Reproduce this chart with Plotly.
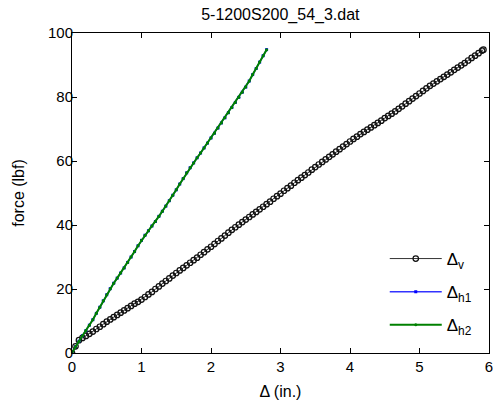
import plotly.graph_objects as go

# Black series: Delta_v (in.) vs force (lbf)
dv_x = [0, 0.05, 0.10, 0.15, 0.20, 0.25, 0.30, 0.35, 0.40, 0.45, 0.50, 0.55, 0.60, 0.65, 0.70, 0.75,
        0.80, 0.85, 0.90, 0.95, 1.00, 1.05, 1.10, 1.15, 1.20, 1.25, 1.30, 1.35, 1.40, 1.45, 1.50,
        1.55, 1.60, 1.65, 1.70, 1.75, 1.80, 1.85, 1.90, 1.95, 2.00, 2.05, 2.10, 2.15, 2.20, 2.25,
        2.30, 2.35, 2.40, 2.45, 2.50, 2.55, 2.60, 2.65, 2.70, 2.75, 2.80, 2.85, 2.90, 2.95, 3.00,
        3.05, 3.10, 3.15, 3.20, 3.25, 3.30, 3.35, 3.40, 3.45, 3.50, 3.55, 3.60, 3.65, 3.70, 3.75,
        3.80, 3.85, 3.90, 3.95, 4.00, 4.05, 4.10, 4.15, 4.20, 4.25, 4.30, 4.35, 4.40, 4.45, 4.50,
        4.55, 4.60, 4.65, 4.70, 4.75, 4.80, 4.85, 4.90, 4.95, 5.00, 5.05, 5.10, 5.15, 5.20, 5.25,
        5.30, 5.35, 5.40, 5.45, 5.50, 5.55, 5.60, 5.65, 5.70, 5.75, 5.80, 5.85, 5.90, 5.92]
dv_f = [0, 2.1, 4.0, 4.7, 5.35, 6.0, 6.7, 7.5, 8.2, 9.0, 9.8, 10.5, 11.2, 11.9, 12.6, 13.3,
        14.0, 14.7, 15.4, 16.0, 16.7, 17.5, 18.3, 19.1, 20.0, 20.8, 21.7, 22.5, 23.3, 24.2, 25.0,
        25.8, 26.6, 27.4, 28.2, 29.0, 29.8, 30.7, 31.5, 32.4, 33.2, 34.1, 35.0, 35.8, 36.7, 37.6,
        38.5, 39.3, 40.1, 40.9, 41.7, 42.5, 43.3, 44.1, 44.9, 45.7, 46.5, 47.3, 48.2, 49.0, 49.8,
        50.7, 51.5, 52.3, 53.2, 54.0, 54.8, 55.6, 56.4, 57.3, 58.1, 58.9, 59.7, 60.5, 61.3, 62.1,
        62.9, 63.7, 64.5, 65.3, 66.1, 66.9, 67.6, 68.4, 69.1, 69.8, 70.5, 71.2, 71.9, 72.6, 73.4,
        74.1, 74.8, 75.5, 76.3, 77.1, 77.9, 78.7, 79.5, 80.3, 81.1, 81.9, 82.7, 83.5, 84.2, 84.9,
        85.6, 86.3, 87.0, 87.7, 88.5, 89.2, 89.9, 90.6, 91.4, 92.2, 92.9, 93.7, 94.5, 94.8]

# Green / blue series: Delta_h (in.) vs force (lbf)
dh_x = [0, 0.05, 0.10, 0.15, 0.20, 0.25, 0.30, 0.35, 0.40, 0.45, 0.50, 0.55, 0.60, 0.65, 0.70,
        0.75, 0.80, 0.85, 0.90, 0.95, 1.00, 1.05, 1.10, 1.15, 1.20, 1.25, 1.30, 1.35, 1.40, 1.45,
        1.50, 1.55, 1.60, 1.65, 1.70, 1.75, 1.80, 1.85, 1.90, 1.95, 2.00, 2.05, 2.10, 2.15, 2.20,
        2.25, 2.30, 2.35, 2.40, 2.45, 2.50, 2.55, 2.60, 2.65, 2.70, 2.75, 2.80]
dh_f = [0, 2.0, 3.7, 5.4, 7.0, 8.7, 10.4, 12.4, 14.3, 16.3, 18.2, 20.1, 21.8, 23.4, 25.0,
        26.6, 28.3, 30.0, 31.7, 33.5, 35.2, 36.8, 38.2, 39.7, 41.1, 42.7, 44.3, 45.9, 47.6, 49.3,
        51.0, 52.8, 54.5, 56.3, 57.9, 59.4, 61.0, 62.5, 64.1, 65.6, 67.2, 68.7, 70.3, 71.9, 73.5,
        75.1, 76.7, 78.3, 79.9, 81.5, 83.1, 85.0, 87.0, 88.9, 90.9, 92.9, 94.8]

x_ticks = [0, 1, 2, 3, 4, 5, 6]
y_ticks = [0, 20, 40, 60, 80, 100]

FONT = "Liberation Sans, Arial, sans-serif"

fig = go.Figure()
fig.add_trace(go.Scatter(
    x=dv_x, y=dv_f, mode="lines+markers", name="Δ<sub>v</sub>",
    line=dict(color="black", width=0.8),
    marker=dict(symbol="circle-open", size=5.5, color="#111111", line=dict(width=1.2)),
    legendgroup="a"))
fig.add_trace(go.Scatter(
    x=dh_x, y=dh_f, mode="lines+markers", name="Δ<sub>h1</sub>",
    line=dict(color="#3333ff", width=1.5),
    marker=dict(symbol="square", size=3, color="#0000ff"),
    legendgroup="b"))
fig.add_trace(go.Scatter(
    x=dh_x, y=dh_f, mode="lines+markers", name="Δ<sub>h2</sub>",
    line=dict(color="#008000", width=2),
    marker=dict(symbol="circle", size=3, color="#008000"),
    legendgroup="c"))

axis_common = dict(
    showline=True, linecolor="black", linewidth=1, mirror="ticks",
    ticks="inside", ticklen=5, tickcolor="black", tickwidth=1,
    showgrid=False, zeroline=False, ticklabeloverflow="allow",
    tickfont=dict(family=FONT, size=15, color="black"),
)

fig.update_layout(
    width=493, height=406,
    margin=dict(l=72, r=4, t=33, b=53, autoexpand=False),
    paper_bgcolor="white", plot_bgcolor="white",
    font=dict(family=FONT, size=15, color="black"),
    title=dict(text="5-1200S200_54_3.dat", x=0.5687, xanchor="center", y=0.965, yanchor="middle",
               font=dict(family=FONT, size=16, color="black")),
    xaxis=dict(range=[0, 6], tickvals=x_ticks, title=dict(text="Δ (in.)", standoff=11,
               font=dict(family=FONT, size=16)), **axis_common),
    yaxis=dict(range=[0, 100], tickvals=y_ticks, ticklabelstandoff=-5,
               title=dict(text="force (lbf)", standoff=19, font=dict(family=FONT, size=16)),
               **axis_common),
    legend=dict(x=0.75, y=0.35, xanchor="left", yanchor="top", bgcolor="rgba(0,0,0,0)",
                borderwidth=0, tracegroupgap=8, itemwidth=52,
                font=dict(family=FONT, size=17, color="black")),
    showlegend=True,
)

fig.write_html("out.html", config={"displayModeBar": False},
               post_script="document.body.style.margin='0';document.body.style.padding='0';")
